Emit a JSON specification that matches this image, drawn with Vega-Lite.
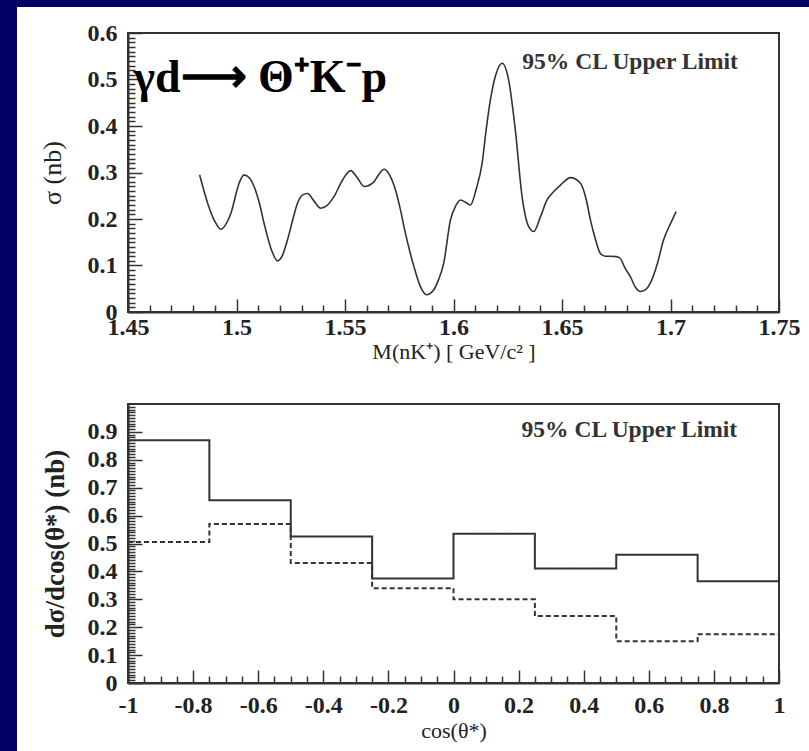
{
  "$schema": "https://vega.github.io/schema/vega-lite/v6.json",
  "background": "white",
  "padding": 0,
  "bounds": "flush",
  "spacing": 0,
  "config": {
    "view": {"stroke": null},
    "font": "Liberation Serif",
    "axis": {
      "grid": false,
      "domainColor": "#333",
      "domainWidth": 2,
      "tickColor": "#333",
      "tickWidth": 1.5,
      "tickCount": 1000,
      "labelColor": "#222",
      "titleColor": "#222",
      "labelFont": "Liberation Serif",
      "titleFont": "Liberation Serif",
      "labelFontWeight": "bold",
      "labelFontSize": 24,
      "labelOverlap": false,
      "labelFlush": false,
      "labelBound": false
    }
  },
  "datasets": {
    "curve": [
      {"m": 1.483, "sigma": 0.295}, {"m": 1.4867, "sigma": 0.234}, {"m": 1.49, "sigma": 0.195},
      {"m": 1.4928, "sigma": 0.178}, {"m": 1.495, "sigma": 0.188}, {"m": 1.4974, "sigma": 0.212},
      {"m": 1.5012, "sigma": 0.277}, {"m": 1.5035, "sigma": 0.295}, {"m": 1.506, "sigma": 0.288},
      {"m": 1.5081, "sigma": 0.27}, {"m": 1.5105, "sigma": 0.235}, {"m": 1.5127, "sigma": 0.191},
      {"m": 1.516, "sigma": 0.135}, {"m": 1.5189, "sigma": 0.11}, {"m": 1.521, "sigma": 0.12},
      {"m": 1.5235, "sigma": 0.155}, {"m": 1.526, "sigma": 0.2}, {"m": 1.5281, "sigma": 0.234},
      {"m": 1.5305, "sigma": 0.252}, {"m": 1.5327, "sigma": 0.255}, {"m": 1.5355, "sigma": 0.24},
      {"m": 1.5388, "sigma": 0.223}, {"m": 1.5415, "sigma": 0.228}, {"m": 1.5449, "sigma": 0.248},
      {"m": 1.549, "sigma": 0.285}, {"m": 1.5526, "sigma": 0.304}, {"m": 1.5555, "sigma": 0.29},
      {"m": 1.5588, "sigma": 0.27}, {"m": 1.5633, "sigma": 0.28}, {"m": 1.5655, "sigma": 0.295},
      {"m": 1.568, "sigma": 0.307}, {"m": 1.5705, "sigma": 0.295}, {"m": 1.5733, "sigma": 0.262},
      {"m": 1.5756, "sigma": 0.219}, {"m": 1.5772, "sigma": 0.183}, {"m": 1.5818, "sigma": 0.097},
      {"m": 1.5848, "sigma": 0.054}, {"m": 1.5876, "sigma": 0.037}, {"m": 1.5905, "sigma": 0.045},
      {"m": 1.593, "sigma": 0.068}, {"m": 1.5955, "sigma": 0.105}, {"m": 1.5986, "sigma": 0.198},
      {"m": 1.601, "sigma": 0.228}, {"m": 1.6032, "sigma": 0.241}, {"m": 1.6055, "sigma": 0.236},
      {"m": 1.6078, "sigma": 0.23}, {"m": 1.6105, "sigma": 0.265}, {"m": 1.6132, "sigma": 0.32},
      {"m": 1.615, "sigma": 0.39}, {"m": 1.617, "sigma": 0.456}, {"m": 1.6195, "sigma": 0.51},
      {"m": 1.6224, "sigma": 0.535}, {"m": 1.6254, "sigma": 0.499}, {"m": 1.6285, "sigma": 0.391},
      {"m": 1.6316, "sigma": 0.248}, {"m": 1.6347, "sigma": 0.183}, {"m": 1.637, "sigma": 0.173},
      {"m": 1.6401, "sigma": 0.205}, {"m": 1.6431, "sigma": 0.241}, {"m": 1.646, "sigma": 0.258},
      {"m": 1.6493, "sigma": 0.273}, {"m": 1.6539, "sigma": 0.289}, {"m": 1.6585, "sigma": 0.277},
      {"m": 1.661, "sigma": 0.245}, {"m": 1.6631, "sigma": 0.198}, {"m": 1.6655, "sigma": 0.155},
      {"m": 1.6677, "sigma": 0.126}, {"m": 1.67, "sigma": 0.12}, {"m": 1.6723, "sigma": 0.12},
      {"m": 1.675, "sigma": 0.119}, {"m": 1.6769, "sigma": 0.115}, {"m": 1.679, "sigma": 0.095},
      {"m": 1.6815, "sigma": 0.076}, {"m": 1.684, "sigma": 0.052}, {"m": 1.6861, "sigma": 0.044},
      {"m": 1.6885, "sigma": 0.048}, {"m": 1.6907, "sigma": 0.062}, {"m": 1.694, "sigma": 0.105},
      {"m": 1.6968, "sigma": 0.155}, {"m": 1.7, "sigma": 0.19}, {"m": 1.7026, "sigma": 0.216}
    ],
    "hist": [
      {"cos": -1, "v": 0.87, "set": "upper limit"}, {"cos": -0.75, "v": 0.655, "set": "upper limit"},
      {"cos": -0.5, "v": 0.525, "set": "upper limit"}, {"cos": -0.25, "v": 0.375, "set": "upper limit"},
      {"cos": 0, "v": 0.535, "set": "upper limit"}, {"cos": 0.25, "v": 0.41, "set": "upper limit"},
      {"cos": 0.5, "v": 0.46, "set": "upper limit"}, {"cos": 0.75, "v": 0.365, "set": "upper limit"},
      {"cos": 1, "v": 0.365, "set": "upper limit"},
      {"cos": -1, "v": 0.505, "set": "comparison"}, {"cos": -0.75, "v": 0.57, "set": "comparison"},
      {"cos": -0.5, "v": 0.43, "set": "comparison"}, {"cos": -0.25, "v": 0.34, "set": "comparison"},
      {"cos": 0, "v": 0.3, "set": "comparison"}, {"cos": 0.25, "v": 0.24, "set": "comparison"},
      {"cos": 0.5, "v": 0.15, "set": "comparison"}, {"cos": 0.75, "v": 0.175, "set": "comparison"},
      {"cos": 1, "v": 0.175, "set": "comparison"}
    ]
  },
  "hconcat": [
    {"width": 17, "height": 751, "view": {"fill": "#000066", "stroke": null}, "data": {"values": []}, "mark": "rect", "encoding": {}},
    {
      "spacing": 26,
      "bounds": "flush",
      "vconcat": [
        {"width": 792, "height": 7, "view": {"fill": "#000066", "stroke": null}, "data": {"values": []}, "mark": "rect", "encoding": {}},
        {
          "spacing": 0,
          "bounds": "flush",
          "hconcat": [
            {"width": 111, "height": 1, "data": {"values": []}, "mark": "rect", "encoding": {}},
            {
              "spacing": 92,
              "bounds": "flush",
              "vconcat": [
                {
                  "width": 651,
                  "height": 279,
                  "view": {"stroke": "#333", "strokeWidth": 2, "fill": "white"},
                  "layer": [
                    {
                      "data": {"name": "curve"},
                      "mark": {"type": "line", "interpolate": "monotone", "color": "#333", "strokeWidth": 1.6},
                      "encoding": {
                        "x": {
                          "field": "m", "type": "quantitative",
                          "scale": {"domain": [1.45, 1.75], "nice": false, "zero": false},
                          "axis": {
                            "values": [1.45,1.46,1.47,1.48,1.49,1.5,1.51,1.52,1.53,1.54,1.55,1.56,1.57,1.58,1.59,1.6,1.61,1.62,1.63,1.64,1.65,1.66,1.67,1.68,1.69,1.7,1.71,1.72,1.73,1.74,1.75],
                            "labelExpr": "abs(datum.value*20 - round(datum.value*20)) < 0.001 ? format(datum.value, '.2~f') : ''",
                            "tickSize": {"condition": {"test": "abs(datum.value*20 - round(datum.value*20)) < 0.001", "value": -13}, "value": -7},
                            "labelPadding": 16,
                            "title": "M(nK⁺) [ GeV/c² ]",
                            "titleFontSize": 22,
                            "titleFontWeight": "normal",
                            "titlePadding": -4
                          }
                        },
                        "y": {
                          "field": "sigma", "type": "quantitative",
                          "scale": {"domain": [0, 0.6], "nice": false},
                          "axis": {
                            "values": [0,0.01,0.02,0.03,0.04,0.05,0.06,0.07,0.08,0.09,0.1,0.11,0.12,0.13,0.14,0.15,0.16,0.17,0.18,0.19,0.2,0.21,0.22,0.23,0.24,0.25,0.26,0.27,0.28,0.29,0.3,0.31,0.32,0.33,0.34,0.35,0.36,0.37,0.38,0.39,0.4,0.41,0.42,0.43,0.44,0.45,0.46,0.47,0.48,0.49,0.5,0.51,0.52,0.53,0.54,0.55,0.56,0.57,0.58,0.59,0.6],
                            "labelExpr": "abs(datum.value*10 - round(datum.value*10)) < 0.001 ? format(datum.value, '.1~f') : ''",
                            "tickSize": {"condition": {"test": "abs(datum.value*10 - round(datum.value*10)) < 0.001", "value": -14}, "value": -7},
                            "labelPadding": 25,
                            "title": "σ (nb)",
                            "titleFontSize": 26,
                            "titleFontWeight": "normal",
                            "titlePadding": 22
                          }
                        }
                      }
                    },
                    {
                      "data": {"values": [{}]},
                      "mark": {"type": "text", "text": "γd⟶ Θ⁺K⁻p", "align": "left", "baseline": "middle", "font": "Liberation Serif", "fontSize": 46, "fontWeight": "bold", "color": "black"},
                      "encoding": {"x": {"datum": 1.4525}, "y": {"datum": 0.503}}
                    },
                    {
                      "data": {"values": [{}]},
                      "mark": {"type": "text", "text": "95% CL Upper Limit", "align": "left", "baseline": "middle", "font": "Liberation Serif", "fontSize": 23.5, "fontWeight": "bold", "color": "#333"},
                      "encoding": {"x": {"datum": 1.6317}, "y": {"datum": 0.5376}}
                    }
                  ]
                },
                {
                  "width": 651,
                  "height": 279,
                  "view": {"stroke": "#333", "strokeWidth": 2, "fill": "white"},
                  "layer": [
                    {
                      "data": {"name": "hist"},
                      "mark": {"type": "line", "interpolate": "step-after", "color": "#333", "strokeWidth": 2},
                      "encoding": {
                        "x": {
                          "field": "cos", "type": "quantitative",
                          "scale": {"domain": [-1, 1], "nice": false, "zero": false},
                          "axis": {
                            "values": [-1,-0.95,-0.9,-0.85,-0.8,-0.75,-0.7,-0.65,-0.6,-0.55,-0.5,-0.45,-0.4,-0.35,-0.3,-0.25,-0.2,-0.15,-0.1,-0.05,0,0.05,0.1,0.15,0.2,0.25,0.3,0.35,0.4,0.45,0.5,0.55,0.6,0.65,0.7,0.75,0.8,0.85,0.9,0.95,1],
                            "labelExpr": "abs(datum.value*5 - round(datum.value*5)) < 0.001 ? replace(format(datum.value, '.1~f'), '−', '-') : ''",
                            "tickSize": {"condition": {"test": "abs(datum.value*5 - round(datum.value*5)) < 0.001", "value": -13}, "value": -7},
                            "labelPadding": 23,
                            "title": "cos(θ*)",
                            "titleFontSize": 22,
                            "titleFontWeight": "normal",
                            "titlePadding": -3
                          }
                        },
                        "y": {
                          "field": "v", "type": "quantitative",
                          "scale": {"domain": [0, 1], "nice": false},
                          "axis": {
                            "values": [0,0.01,0.02,0.03,0.04,0.05,0.06,0.07,0.08,0.09,0.1,0.11,0.12,0.13,0.14,0.15,0.16,0.17,0.18,0.19,0.2,0.21,0.22,0.23,0.24,0.25,0.26,0.27,0.28,0.29,0.3,0.31,0.32,0.33,0.34,0.35,0.36,0.37,0.38,0.39,0.4,0.41,0.42,0.43,0.44,0.45,0.46,0.47,0.48,0.49,0.5,0.51,0.52,0.53,0.54,0.55,0.56,0.57,0.58,0.59,0.6,0.61,0.62,0.63,0.64,0.65,0.66,0.67,0.68,0.69,0.7,0.71,0.72,0.73,0.74,0.75,0.76,0.77,0.78,0.79,0.8,0.81,0.82,0.83,0.84,0.85,0.86,0.87,0.88,0.89,0.9,0.91,0.92,0.93,0.94,0.95,0.96,0.97,0.98,0.99],
                            "labelExpr": "abs(datum.value*10 - round(datum.value*10)) < 0.001 ? format(datum.value, '.1~f') : ''",
                            "tickSize": {"condition": {"test": "abs(datum.value*10 - round(datum.value*10)) < 0.001", "value": -14}, "value": -7},
                            "labelPadding": 25,
                            "title": "dσ/dcos(θ*) (nb)",
                            "titleFontSize": 27,
                            "titleFontWeight": "bold",
                            "titlePadding": 18
                          }
                        },
                        "strokeDash": {
                          "field": "set", "type": "nominal",
                          "scale": {"domain": ["upper limit", "comparison"], "range": [[1, 0], [5, 3]]},
                          "legend": null
                        }
                      }
                    },
                    {
                      "data": {"values": [{}]},
                      "mark": {"type": "text", "text": "95% CL Upper Limit", "align": "left", "baseline": "middle", "font": "Liberation Serif", "fontSize": 23.5, "fontWeight": "bold", "color": "#333"},
                      "encoding": {"x": {"datum": 0.209}, "y": {"datum": 0.907}}
                    }
                  ]
                }
              ]
            }
          ]
        }
      ]
    }
  ]
}
